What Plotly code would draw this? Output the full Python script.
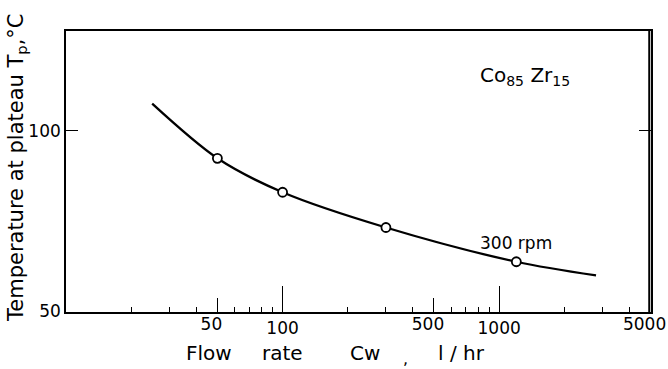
import numpy as np
import plotly.graph_objects as go

# Data
curve_x = [25, 50, 100, 300, 1200, 2800]
curve_y = [111, 90, 79, 69, 60.5, 57.4]
point_x = [50, 100, 300, 1200]
point_y = [90, 79, 69, 60.5]

major_long = [100, 1000]
major_long_labels = ["100", "1000"]
major_short = [50, 500, 5000]
major_short_labels = ["50", "500", "5000"]
minor_vals = [20, 30, 40, 60, 70, 80, 90, 200, 300, 400, 600, 700, 800, 900,
              2000, 3000, 4000]
y_ticks = [50, 100]
y_labels = ["50", "100"]

FONT = "DejaVu Sans"
XR = [1, np.log10(5000) + 0.002]
YR = [np.log10(50) - 0.001, np.log10(50) + 281 / 601]

fig = go.Figure()
fig.add_trace(go.Scatter(x=curve_x, y=curve_y, mode="lines",
                         line=dict(color="black", width=2.3, shape="spline", smoothing=0.9),
                         hoverinfo="skip", showlegend=False))
fig.add_trace(go.Scatter(x=point_x, y=point_y, mode="markers",
                         marker=dict(size=9, color="white", line=dict(color="black", width=1.8)),
                         showlegend=False))
fig.add_trace(go.Scatter(x=point_x, y=point_y, mode="markers", xaxis="x2",
                         marker=dict(opacity=0), hoverinfo="skip", showlegend=False))

tickfont = dict(family=FONT, size=17, color="black")
fig.update_layout(
    width=668, height=369,
    margin=dict(l=66, r=17, t=31, b=57, autoexpand=False),
    paper_bgcolor="white", plot_bgcolor="white",
    xaxis=dict(type="log", range=XR, showgrid=False, zeroline=False, automargin=False,
               showline=True, linecolor="black", linewidth=1.6, mirror=True,
               tickmode="array", tickvals=major_long, ticktext=major_long_labels,
               ticks="inside", ticklen=26, tickwidth=1.3, tickcolor="black",
               tickfont=tickfont,
               minor=dict(ticks="inside", ticklen=5, tickwidth=1.2, tickcolor="black",
                          tickmode="array", tickvals=minor_vals, showgrid=False)),
    xaxis2=dict(type="log", range=XR, overlaying="x", anchor="y", side="bottom",
                showgrid=False, zeroline=False, showline=False, automargin=False,
                tickmode="array", tickvals=major_short, ticktext=major_short_labels,
                ticks="inside", ticklen=14, tickwidth=1.3, tickcolor="black",
                tickfont=tickfont, ticklabelshift=-6),
    yaxis=dict(type="log", range=YR, showgrid=False, zeroline=False, automargin=False,
               showline=True, linecolor="black", linewidth=1.6, mirror="all",
               tickmode="array", tickvals=y_ticks, ticktext=y_labels,
               ticks="inside", ticklen=12, tickwidth=1.3, tickcolor="black",
               tickfont=tickfont),
    font=dict(family=FONT, color="black"),
    shapes=[dict(type="line", xref="paper", yref="paper", x0=0.997, x1=0.997, y0=0, y1=1,
                 line=dict(color="black", width=2), layer="above")],
)

def px_x(px):
    return (px - 66) / 585

def px_y(py):
    return (312 - py) / 281

def note(text, cx, cy, size, angle=0):
    return dict(text=text, x=px_x(cx), y=px_y(cy), xref="paper", yref="paper",
                xanchor="center", yanchor="middle", showarrow=False, textangle=angle,
                font=dict(family=FONT, size=size, color="black"))

ann = [
    note("Co<sub>85</sub> Zr<sub>15</sub>", 525, 76, 20),
    note("300 rpm", 516, 243, 17),
    note("Temperature at plateau T<sub>p</sub>,°C", 17, 168, 21, -90),
]
for word, cx in [("Flow", 209), ("rate", 282), ("Cw", 365), ("l / hr", 461)]:
    ann.append(note(word, cx, 353, 20))
ann.append(note(",", 405, 358, 16))
fig.update_layout(annotations=ann)

fig.write_html("out.html")
